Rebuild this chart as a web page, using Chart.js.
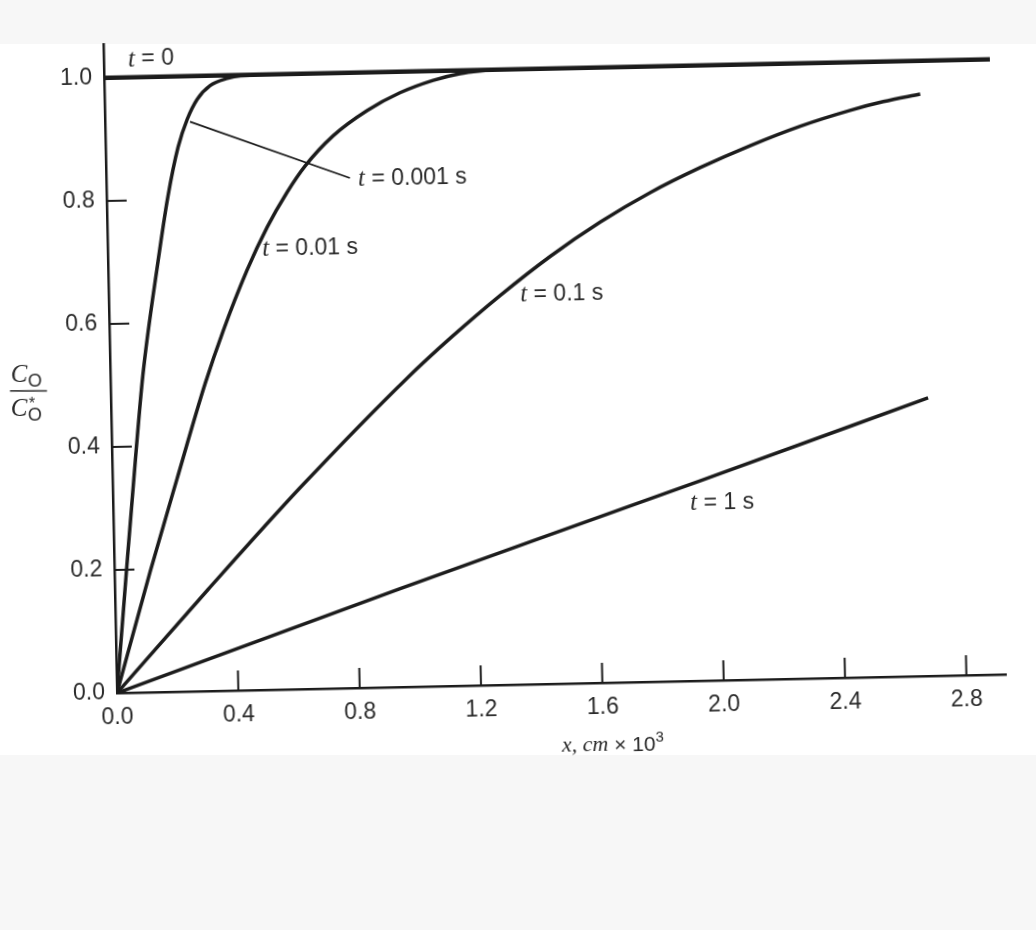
<!DOCTYPE html>
<html>
<head>
<meta charset="utf-8">
<script src="https://cdn.jsdelivr.net/npm/chart.js@4.4.0/dist/chart.umd.min.js"></script>
<style>
  body { margin:0; background:#f7f7f7; width:1036px; height:930px; overflow:hidden; }
  #band { position:absolute; left:0; top:44px; width:1036px; height:711px; background:#fff; }
  /* the scan is tilted a little, so the whole canvas is turned round the origin */
  #c { position:absolute; left:0; top:0; transform:rotate(-1.2deg); transform-origin:117px 693px; }
</style>
</head>
<body>
<div id="band"></div>
<canvas id="c" width="1036" height="780"></canvas>
<script>
// x in cm x 10^3, y = C_O / C*_O
var xTicks = [0, 0.4, 0.8, 1.2, 1.6, 2.0, 2.4, 2.8];
var yTicks = [0, 0.2, 0.4, 0.6, 0.8, 1.0];

var x_t0 = [0, 2.92];
var y_t0 = [1, 1];

var x_t0001 = [0, 0.041, 0.076, 0.107, 0.165, 0.202, 0.239, 0.271, 0.305, 0.349, 0.405, 0.45, 0.55];
var y_t0001 = [0, 0.205, 0.375, 0.515, 0.700, 0.805, 0.885, 0.930, 0.962, 0.984, 0.995, 0.999, 1.0];

var x_t001 = [0, 0.117, 0.212, 0.312, 0.375, 0.458, 0.527, 0.595, 0.656, 0.750, 0.864, 0.974, 1.084, 1.173, 1.27];
var y_t001 = [0, 0.195, 0.345, 0.500, 0.585, 0.683, 0.752, 0.808, 0.850, 0.898, 0.938, 0.966, 0.985, 0.995, 1.0];

var x_t01 = [0, 0.307, 0.617, 0.978, 1.122, 1.290, 1.458, 1.625, 1.791, 1.958, 2.124, 2.291, 2.456, 2.566, 2.688];
var y_t01 = [0, 0.165, 0.327, 0.502, 0.565, 0.633, 0.695, 0.749, 0.795, 0.834, 0.868, 0.898, 0.922, 0.935, 0.946];

var x_t1 = [0, 0.94, 1.604, 1.936, 2.693];
var y_t1 = [0, 0.16, 0.27, 0.325, 0.452];

// leader from the t = 0.001 s label to its curve
var x_lead = [0.28, 0.803];
var y_lead = [0.926, 0.829];

var curveLabels = ['0', '0.001 s', '0.01 s', '0.1 s', '1 s'];
var labelX = [0.08, 0.83, 0.509, 1.356, 1.902];
var labelY = [1.029, 0.826, 0.716, 0.633, 0.289];

function pts(xs, ys) {
    return xs.map(function (v, i) { return {x: v, y: ys[i]}; });
}

var ink = '#1c1c1c';
var txt = '#2a2a2a';
var sans = '"Liberation Sans", Arial, sans-serif';
var serif = '"Liberation Serif", "Times New Roman", serif';

function curve(xs, ys, w) {
    return {
        data: pts(xs, ys),
        showLine: true,
        borderColor: ink,
        borderWidth: w,
        pointRadius: 0,
        fill: false,
        cubicInterpolationMode: 'monotone'
    };
}

// page coords -> canvas coords (undo the css turn)
var th = 1.2 * Math.PI / 180;
function unrot(px, py) {
    var dx = px - 117, dy = py - 693;
    return [117 + dx * Math.cos(th) - dy * Math.sin(th), 693 + dx * Math.sin(th) + dy * Math.cos(th)];
}

var extras = {
    id: 'extras',
    afterDatasetsDraw: function (chart) {
        var ctx = chart.ctx, xs = chart.scales.x, ys = chart.scales.y;
        var a = chart.chartArea;
        ctx.save();
        ctx.strokeStyle = ink;
        ctx.lineWidth = 2;
        // inward tick marks
        xTicks.forEach(function (v) {
            if (v === 0) return;
            var p = xs.getPixelForValue(v);
            ctx.beginPath(); ctx.moveTo(p, a.bottom); ctx.lineTo(p, a.bottom - 20); ctx.stroke();
        });
        yTicks.forEach(function (v) {
            if (v === 0 || v === 1) return;
            var p = ys.getPixelForValue(v);
            ctx.beginPath(); ctx.moveTo(a.left, p); ctx.lineTo(a.left + 20, p); ctx.stroke();
        });

        // curve labels
        ctx.fillStyle = txt;
        ctx.textBaseline = 'middle';
        ctx.textAlign = 'left';
        curveLabels.forEach(function (s, i) {
            var px = xs.getPixelForValue(labelX[i]);
            var py = ys.getPixelForValue(labelY[i]);
            ctx.font = 'italic 25px ' + serif;
            ctx.fillText('t', px, py);
            var w = ctx.measureText('t').width;
            ctx.font = '23px ' + sans;
            ctx.fillText(' = ' + s, px + w, py);
        });

        // y title as a fraction
        ctx.textBaseline = 'alphabetic';
        var p;
        ctx.font = 'italic 25px ' + serif;
        p = unrot(11, 382); ctx.fillText('C', p[0], p[1]);
        p = unrot(11, 416); ctx.fillText('C', p[0], p[1]);
        ctx.font = '18px ' + sans;
        p = unrot(28, 387); ctx.fillText('O', p[0], p[1]);
        p = unrot(28, 421); ctx.fillText('O', p[0], p[1]);
        ctx.font = '16px ' + sans;
        p = unrot(29, 409); ctx.fillText('*', p[0], p[1]);
        ctx.lineWidth = 1.5;
        ctx.strokeStyle = txt;
        var l0 = unrot(10, 391), l1 = unrot(47, 391);
        ctx.beginPath(); ctx.moveTo(l0[0], l0[1]); ctx.lineTo(l1[0], l1[1]); ctx.stroke();

        // x title
        ctx.font = 'italic 22px ' + serif;
        var w1 = ctx.measureText('x, cm').width;
        ctx.font = '21px ' + sans;
        var w2 = ctx.measureText(' \u00d7 10').width;
        ctx.font = '15px ' + sans;
        var w3 = ctx.measureText('3').width;
        var sx = 613 - (w1 + w2 + w3) / 2;
        ctx.font = 'italic 22px ' + serif;
        p = unrot(sx, 752); ctx.fillText('x, cm', p[0], p[1]);
        ctx.font = '21px ' + sans;
        p = unrot(sx + w1, 752); ctx.fillText(' \u00d7 10', p[0], p[1]);
        ctx.font = '15px ' + sans;
        p = unrot(sx + w1 + w2, 742); ctx.fillText('3', p[0], p[1]);
        ctx.restore();
    }
};

var chart = new Chart(document.getElementById('c'), {
    type: 'scatter',
    data: {
        datasets: [
            curve(x_t0, y_t0, 4.5),
            curve(x_t0001, y_t0001, 3.5),
            curve(x_t001, y_t001, 3.5),
            curve(x_t01, y_t01, 3.5),
            curve(x_t1, y_t1, 3.5),
            {data: pts(x_lead, y_lead), showLine: true, borderColor: ink, borderWidth: 1.8, pointRadius: 0}
        ]
    },
    options: {
        responsive: false,
        animation: false,
        devicePixelRatio: 1,
        layout: {padding: {top: 44, right: 30, left: 0, bottom: 0}},
        plugins: {legend: {display: false}, tooltip: {enabled: false}},
        scales: {
            x: {
                type: 'linear', min: 0, max: 2.93,
                grid: {display: false, drawTicks: false},
                border: {display: true, color: ink, width: 2.5},
                afterBuildTicks: function (s) { s.ticks = xTicks.map(function (v) { return {value: v}; }); },
                afterFit: function (s) { s.height = 87; },
                ticks: {
                    color: txt, padding: 11, maxRotation: 0, autoSkip: false,
                    font: {family: sans, size: 23},
                    callback: function (v) { return v.toFixed(1); }
                }
            },
            y: {
                type: 'linear', min: 0, max: 1.055,
                grid: {display: false, drawTicks: false},
                border: {display: true, color: ink, width: 2.5},
                afterBuildTicks: function (s) { s.ticks = yTicks.map(function (v) { return {value: v}; }); },
                afterFit: function (s) { s.width = 117; },
                ticks: {
                    color: txt, padding: 12,
                    font: {family: sans, size: 23},
                    callback: function (v) { return v.toFixed(1); }
                }
            }
        }
    },
    plugins: [extras]
});
</script>
</body>
</html>
